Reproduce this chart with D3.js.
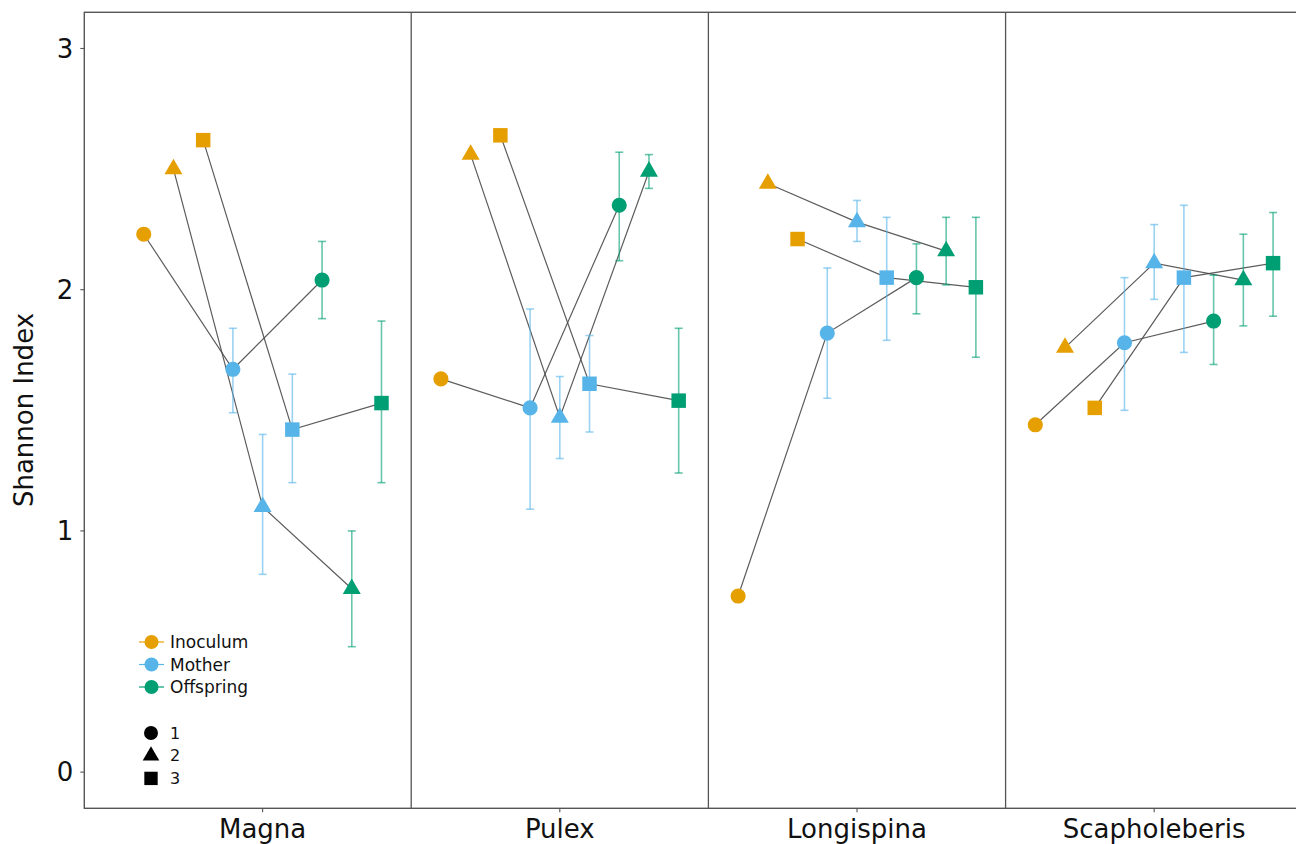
<!DOCTYPE html>
<html>
<head>
<meta charset="utf-8">
<script src="https://cdn.jsdelivr.net/npm/d3@7"></script>
<style>
  html, body { margin: 0; padding: 0; background: #fff; }
  svg { display: block; font-family: "DejaVu Sans", Verdana, sans-serif; }
</style>
</head>
<body>
<svg id="chart" width="1296" height="844"></svg>
<script>
// Species on the x axis, sampling stage (colour) and replicate (shape) dodged within each
const species = ["Magna", "Pulex", "Longispina", "Scapholeberis"];
const stages = ["Inoculum", "Mother", "Offspring"];
const replicates = ["1", "2", "3"];
const yTicks = [0, 1, 2, 3];

// Mean Shannon index, rows = species, columns = replicate 1..3
const inoculumMean = [
  [2.23, 2.50, 2.62],
  [1.63, 2.56, 2.64],
  [0.73, 2.44, 2.21],
  [1.44, 1.76, 1.51]
];
const motherMean = [
  [1.67, 1.10, 1.42],
  [1.51, 1.47, 1.61],
  [1.82, 2.28, 2.05],
  [1.78, 2.11, 2.05]
];
const motherLow = [
  [1.49, 0.82, 1.20],
  [1.09, 1.30, 1.41],
  [1.55, 2.20, 1.79],
  [1.50, 1.96, 1.74]
];
const motherHigh = [
  [1.84, 1.40, 1.65],
  [1.92, 1.64, 1.81],
  [2.09, 2.37, 2.30],
  [2.05, 2.27, 2.35]
];
const offspringMean = [
  [2.04, 0.76, 1.53],
  [2.35, 2.49, 1.54],
  [2.05, 2.16, 2.01],
  [1.87, 2.04, 2.11]
];
const offspringLow = [
  [1.88, 0.52, 1.20],
  [2.12, 2.42, 1.24],
  [1.90, 2.02, 1.72],
  [1.69, 1.85, 1.89]
];
const offspringHigh = [
  [2.20, 1.00, 1.87],
  [2.57, 2.56, 1.84],
  [2.19, 2.30, 2.30],
  [2.06, 2.23, 2.32]
];

const stageColor = d3.scaleOrdinal().domain(stages).range(["#E69F00", "#56B4E9", "#009E73"]);
const shapeOf = d3.scaleOrdinal().domain(replicates)
  .range([d3.symbolCircle, d3.symbolTriangle, d3.symbolSquare]);
const shapeSize = d3.scaleOrdinal().domain(replicates).range([180, 140, 210]);

// Assemble the long table of points
const points = [];
species.forEach((sp, si) => {
  replicates.forEach((rep, ri) => {
    points.push({ sp, stage: "Inoculum", rep, mean: inoculumMean[si][ri], low: null, high: null });
    points.push({ sp, stage: "Mother", rep, mean: motherMean[si][ri], low: motherLow[si][ri], high: motherHigh[si][ri] });
    points.push({ sp, stage: "Offspring", rep, mean: offspringMean[si][ri], low: offspringLow[si][ri], high: offspringHigh[si][ri] });
  });
});

const svg = d3.select("#chart");
const plotLeft = 84.3, plotRight = 1332.5, plotTop = 12.3, plotBottom = 808.3;

const x = d3.scalePoint().domain(species).range([plotLeft, plotRight]).padding(0.6);
const step = x.step();
const dodgeKeys = [];
stages.forEach(s => replicates.forEach(r => dodgeKeys.push(s + "|" + r)));
const dodge = d3.scalePoint().domain(dodgeKeys).range([-0.4 * step, 0.4 * step]);
const y = d3.scaleLinear().domain([-0.15, 3.15]).range([plotBottom, plotTop]);

const px = d => x(d.sp) + dodge(d.stage + "|" + d.rep);

// Separators between species
svg.append("g").selectAll("line")
  .data(species.slice(1))
  .join("line")
  .attr("x1", d => x(d) - step / 2).attr("x2", d => x(d) - step / 2)
  .attr("y1", plotTop).attr("y2", plotBottom)
  .attr("stroke", "#555").attr("stroke-width", 1.3);

// Connecting lines per species × replicate
const lineGen = d3.line().x(px).y(d => y(d.mean));
const groups = d3.groups(points, d => d.sp, d => d.rep);
const gLines = svg.append("g");
groups.forEach(([sp, reps]) => {
  reps.forEach(([rep, pts]) => {
    const ordered = stages.map(s => pts.find(p => p.stage === s));
    gLines.append("path")
      .attr("d", lineGen(ordered))
      .attr("fill", "none")
      .attr("stroke", "#4a4a4a")
      .attr("stroke-opacity", 0.9)
      .attr("stroke-width", 1.2);
  });
});

// Error bars
const withErr = points.filter(d => d.low !== null);
const gErr = svg.append("g");
const cap = 4;
withErr.forEach(d => {
  const c = stageColor(d.stage);
  const g = gErr.append("g").attr("stroke", c).attr("stroke-opacity", 0.6).attr("stroke-width", 1.6);
  g.append("line").attr("x1", px(d)).attr("x2", px(d)).attr("y1", y(d.low)).attr("y2", y(d.high));
  g.append("line").attr("x1", px(d) - cap).attr("x2", px(d) + cap).attr("y1", y(d.low)).attr("y2", y(d.low));
  g.append("line").attr("x1", px(d) - cap).attr("x2", px(d) + cap).attr("y1", y(d.high)).attr("y2", y(d.high));
});

// Points
svg.append("g").selectAll("path")
  .data(points)
  .join("path")
  .attr("transform", d => `translate(${px(d)},${y(d.mean)})`)
  .attr("d", d => d3.symbol().type(shapeOf(d.rep)).size(shapeSize(d.rep))())
  .attr("fill", d => stageColor(d.stage));

// Panel border
svg.append("rect")
  .attr("x", plotLeft).attr("y", plotTop)
  .attr("width", plotRight - plotLeft).attr("height", plotBottom - plotTop)
  .attr("fill", "none").attr("stroke", "#555").attr("stroke-width", 1.4);

// Y axis
const yAxis = svg.append("g");
yAxis.selectAll("line").data(yTicks).join("line")
  .attr("x1", plotLeft - 4).attr("x2", plotLeft).attr("y1", d => y(d)).attr("y2", d => y(d))
  .attr("stroke", "#555").attr("stroke-width", 1.1);
yAxis.selectAll("text").data(yTicks).join("text")
  .attr("x", plotLeft - 11).attr("y", d => y(d)).attr("dy", "0.36em")
  .attr("text-anchor", "end").attr("font-size", 26).attr("fill", "#111")
  .text(d => d);

// X axis
const xAxis = svg.append("g");
xAxis.selectAll("line").data(species).join("line")
  .attr("x1", d => x(d)).attr("x2", d => x(d)).attr("y1", plotBottom).attr("y2", plotBottom + 4)
  .attr("stroke", "#555").attr("stroke-width", 1.1);
xAxis.selectAll("text").data(species).join("text")
  .attr("x", d => x(d)).attr("y", 838)
  .attr("text-anchor", "middle").attr("font-size", 26).attr("fill", "#111")
  .text(d => d);

svg.append("text")
  .attr("transform", "translate(33,410) rotate(-90)")
  .attr("text-anchor", "middle").attr("font-size", 26).attr("fill", "#111")
  .text("Shannon Index");

// Colour legend
const legC = svg.append("g");
stages.forEach((s, i) => {
  const cy = 642 + i * 22.5;
  legC.append("line").attr("x1", 139).attr("x2", 164).attr("y1", cy).attr("y2", cy)
    .attr("stroke", stageColor(s)).attr("stroke-width", 1.2);
  legC.append("circle").attr("cx", 151.5).attr("cy", cy).attr("r", 7).attr("fill", stageColor(s));
  legC.append("text").attr("x", 170).attr("y", cy).attr("dy", "0.36em")
    .attr("font-size", 17).attr("fill", "#111").text(s);
});

// Shape legend
const legS = svg.append("g");
replicates.forEach((r, i) => {
  const cy = 733 + i * 22.7;
  legS.append("path")
    .attr("transform", `translate(151,${cy})`)
    .attr("d", d3.symbol().type(shapeOf(r)).size(shapeSize(r) * 0.85)())
    .attr("fill", "#000");
  legS.append("text").attr("x", 170).attr("y", cy).attr("dy", "0.36em")
    .attr("font-size", 16).attr("fill", "#111").text(r);
});
</script>
</body>
</html>
